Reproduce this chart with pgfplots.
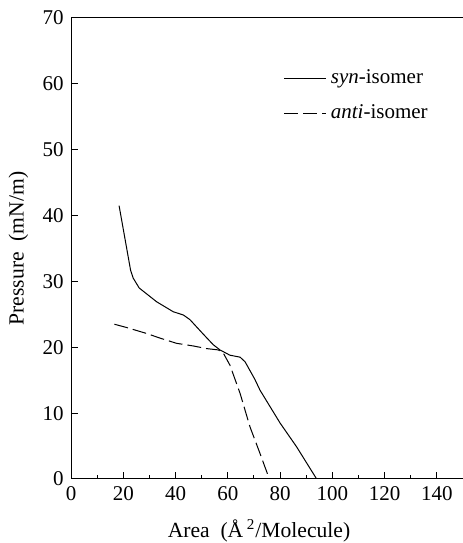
\documentclass[border=0pt]{standalone}
\usepackage{fontspec}
\setmainfont{Liberation Serif}
\usepackage{pgfplots}
\pgfplotsset{compat=1.18}
\usetikzlibrary{calc}
\begin{document}
\fontsize{10.5}{12}\selectfont
\begin{tikzpicture}
\begin{axis}[
  scale only axis, width=196pt, height=230.5pt,
  xmin=0, xmax=150, ymin=0, ymax=70,
  axis x line*=bottom, axis y line*=left,
  axis line style={-, line width=0.5pt, black},
  xtick={0,20,...,140}, minor xtick={10,30,...,150}, ytick={0,10,...,70},
  tick align=inside, major tick length=3.5pt, minor tick length=2pt,
  tick style={black, line width=0.5pt},
  /pgf/number format/assume math mode=true,
  ticklabel style={font=\fontsize{10.5}{12}\selectfont},
  label style={font=\fontsize{10.8}{13}\selectfont},
  xlabel={Area\ \ (Å\,\textsuperscript{2}/Molecule)},
  ylabel={Pressure\ \ (mN/m)},
  xlabel style={yshift=-2.5pt, xshift=-4pt},
  ylabel style={yshift=0pt},
  legend cell align=left,
  legend style={draw=none, fill=none, at={(axis cs:79,63.4)}, anchor=north west,
    row sep=5pt, font=\fontsize{10.5}{12}\selectfont},
  legend image code/.code={\draw[#1] (0pt,0pt) -- (21pt,0pt);},
]
\coordinate (bl) at (rel axis cs:0,0);
\coordinate (tr) at (rel axis cs:1,1);
\addplot[black, line width=0.5pt] coordinates {
(18.4,41.5) (22.8,31.7) (23.8,30.5) (26.1,29.0) (32.8,26.9) (39.1,25.4)
(43.0,24.9) (45.5,24.2) (50.6,22.0) (54.4,20.4) (57.0,19.6) (60.8,18.8)
(64.7,18.5) (66.6,17.8) (70.4,15.1) (72.3,13.5) (80.0,8.5) (86.3,4.9) (94.0,0.0)
};
\addlegendentry{\textit{syn}-isomer}
\addplot[black, line width=0.5pt, dash pattern=on 7pt off 2.5pt] coordinates {
(16.6,23.5) (21.3,23.0) (28.9,22.1) (34.0,21.4) (40.4,20.6) (46.8,20.2)
(51.9,19.8) (56.4,19.6) (58.3,19.1) (60.8,17.3) (64.7,13.0) (68.5,7.9)
(72.3,3.9) (75.9,0.0)
};
\addlegendentry{\textit{anti}-isomer}
\draw[black, line width=0.5pt] (axis cs:0,70) -- (axis cs:150,70);
\end{axis}
\pgfresetboundingbox
\path ($(bl)+(-35.5pt,-32pt)$) rectangle ($(tr)+(-0.5pt,9pt)$);
\end{tikzpicture}
\end{document}
